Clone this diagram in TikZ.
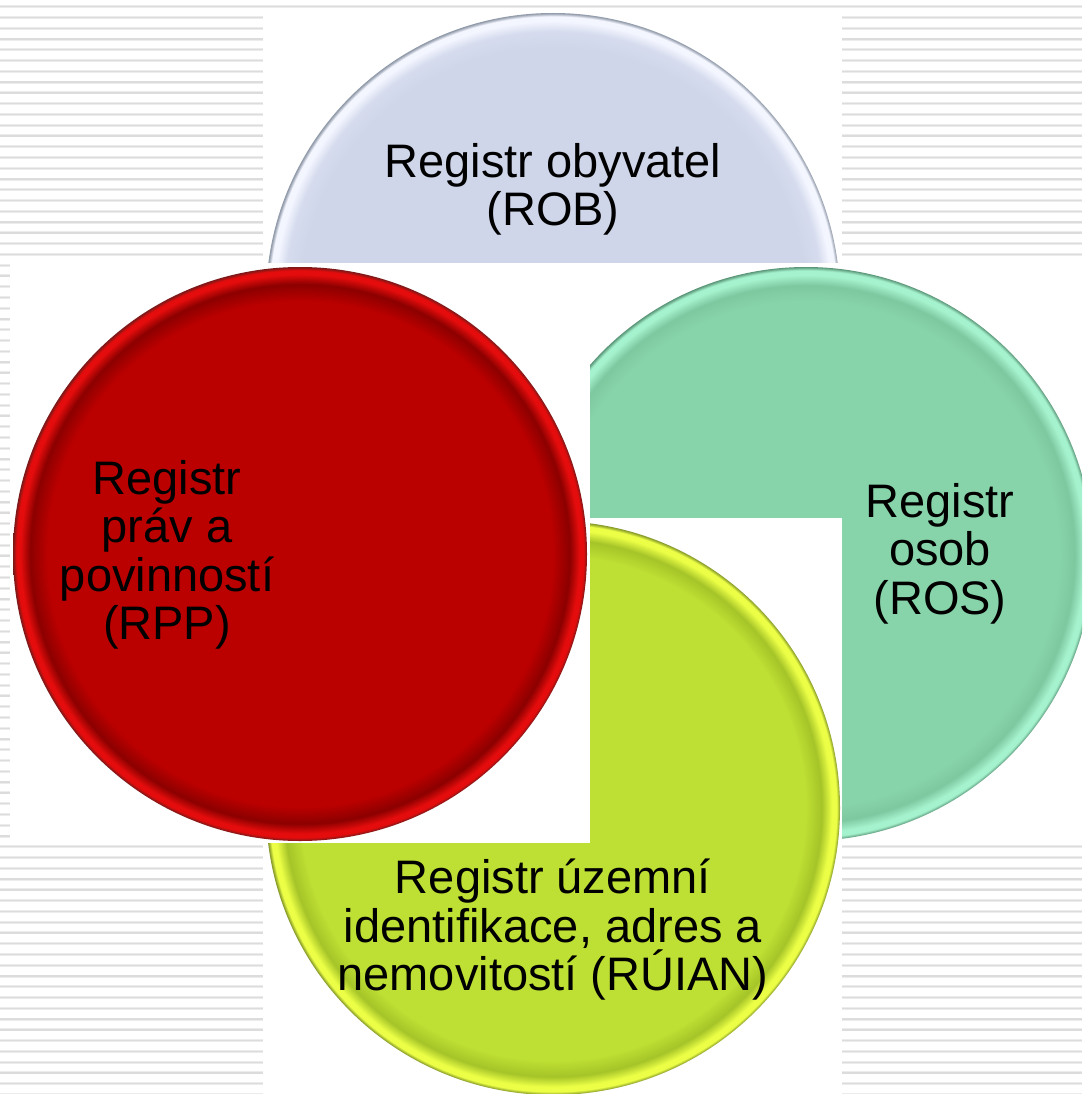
\documentclass[tikz,border=0pt]{standalone}
\usepackage{fontspec}
\setmainfont{Liberation Sans}
\definecolor{stripeA}{RGB}{236,236,236}
\definecolor{stripeB}{RGB}{220,220,220}
\definecolor{robfill}{RGB}{207,214,233}
\definecolor{robband}{RGB}{214,220,238}
\definecolor{robhi}{RGB}{244,246,255}
\definecolor{robedge}{RGB}{140,150,165}
\definecolor{rppfill}{RGB}{187,0,0}
\definecolor{rppband}{RGB}{140,0,0}
\definecolor{rpphi}{RGB}{228,12,12}
\definecolor{rppedge}{RGB}{120,25,25}
\definecolor{rosfill}{RGB}{136,212,170}
\definecolor{rosband}{RGB}{126,200,160}
\definecolor{roshi}{RGB}{165,242,206}
\definecolor{rosedge}{RGB}{90,150,120}
\definecolor{ruifill}{RGB}{190,223,51}
\definecolor{ruiband}{RGB}{165,196,40}
\definecolor{ruihi}{RGB}{236,255,70}
\definecolor{ruiedge}{RGB}{130,150,40}
\pgfdeclareradialshading{robshade}{\pgfpoint{0bp}{0bp}}{color(0bp)=(robfill); color(22bp)=(robfill); color(23.4bp)=(robband); color(24.3bp)=(robhi); color(24.7bp)=(robhi); color(25bp)=(robedge); color(50bp)=(robedge)}
\pgfdeclareradialshading{rppshade}{\pgfpoint{0bp}{0bp}}{color(0bp)=(rppfill); color(22bp)=(rppfill); color(23.5bp)=(rppband); color(24.35bp)=(rpphi); color(24.7bp)=(rpphi); color(25bp)=(rppedge); color(50bp)=(rppedge)}
\pgfdeclareradialshading{rosshade}{\pgfpoint{0bp}{0bp}}{color(0bp)=(rosfill); color(22bp)=(rosfill); color(23.4bp)=(rosband); color(24.3bp)=(roshi); color(24.7bp)=(roshi); color(25bp)=(rosedge); color(50bp)=(rosedge)}
\pgfdeclareradialshading{ruishade}{\pgfpoint{0bp}{0bp}}{color(0bp)=(ruifill); color(22bp)=(ruifill); color(23.4bp)=(ruiband); color(24.3bp)=(ruihi); color(24.7bp)=(ruihi); color(25bp)=(ruiedge); color(50bp)=(ruiedge)}
\begin{document}
\begin{tikzpicture}[x=1pt,y=-1pt,
  bubble/.style={circle, minimum size=574pt, inner sep=0pt, shade},
  label/.style={align=center, inner sep=0pt, text=black,
    font=\fontsize{47}{48.5}\selectfont}]
\useasboundingbox (0,0) rectangle (1082,1094);
\fill[white] (0,0) rectangle (1082,1094);
% striped background
\foreach \k in {0,...,101} {
  \draw[stripeA, line width=3pt] (0,{6.7+10.77*\k}) -- (1082,{6.7+10.77*\k});
  \draw[stripeB, line width=1.3pt] (0,{6.7+10.77*\k}) -- (1082,{6.7+10.77*\k});
}
% ROB
\begin{scope}
  \clip (263,12) rectangle (842,263);
  \fill[white] (263,12) rectangle (842,263);
  \node[bubble, shading=robshade] (robc) at (553,300) {};
\end{scope}
% ROS
\begin{scope}
  \clip (590,263) rectangle (1082,843);
  \fill[white] (590,263) rectangle (1082,843);
  \node[bubble, shading=rosshade] (rosc) at (806,554) {};
\end{scope}
% RUIAN
\begin{scope}
  \clip (263,518) rectangle (842,1094);
  \fill[white] (263,518) rectangle (842,1094);
  \node[bubble, shading=ruishade] (ruic) at (553,808) {};
\end{scope}
% RPP
\begin{scope}
  \clip (10,263) rectangle (590,843);
  \fill[white] (10,263) rectangle (590,843);
  \node[bubble, shading=rppshade] (rppc) at (300,554) {};
\end{scope}
% labels
\node[label] (rob) at (553,189.4) {Registr obyvatel\\(ROB)};
\node[label] (rpp) at (167,554.9) {Registr\\práv a\\povinností\\(RPP)};
\node[label] (ros) at (940,553.6) {Registr\\osob\\(ROS)};
\node[label] (ruian) at (553,929.6) {Registr územní\\identifikace, adres a\\nemovitostí (RÚIAN)};
\end{tikzpicture}
\end{document}
